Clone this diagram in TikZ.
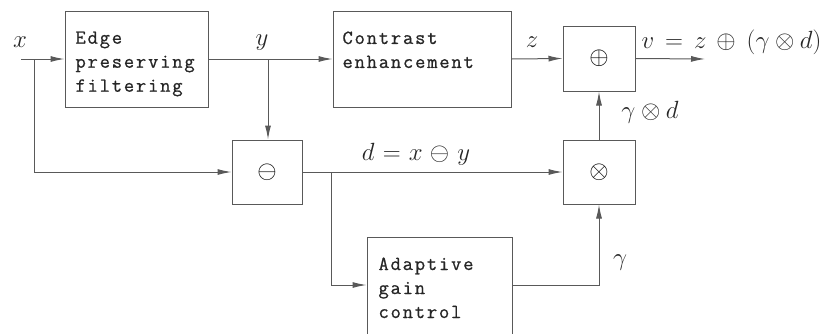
\documentclass[tikz,border=0pt]{standalone}
\usepackage{fontspec}
\newfontfamily\boxfont[LetterSpace=9,FakeBold=0.8]{Latin Modern Mono}
\usetikzlibrary{arrows.meta,calc}
\begin{document}
\begin{tikzpicture}[x=1pt,y=-1pt,
  line width=1pt,
  arr/.style={-{Latex[length=14pt,width=6pt]}, draw=black!65},
  blk/.style={draw=black!65, rectangle, inner sep=0pt, font=\fontsize{23}{27}\selectfont},
  btxt/.style={anchor=north west, inner sep=0pt, align=left, font=\fontsize{20}{24}\selectfont\boxfont, text=black!85},
  lbl/.style={inner sep=0pt, font=\fontsize{23}{27}\selectfont, text=black!85}]
\useasboundingbox (0,0) rectangle (829,333);
% boxes
\node[blk, minimum width=143pt, minimum height=96pt] (edge) at (136.5,59) {};
\node[blk, minimum width=178pt, minimum height=96pt] (contrast) at (422,59) {};
\node[blk, minimum width=70pt, minimum height=64pt] (minus) at (267,172) {$\ominus$};
\node[blk, minimum width=72pt, minimum height=65pt] (plus) at (599,58.5) {$\oplus$};
\node[blk, minimum width=72pt, minimum height=64pt] (times) at (599,172) {$\otimes$};
\node[blk, minimum width=145pt, minimum height=116pt] (adapt) at (439.5,295) {};
% box texts
\node[btxt] (t1) at (75,31) {Edge\\preserving\\filtering};
\node[btxt] (t2) at (342,31) {Contrast\\enhancement};
\node[btxt] (t3) at (378,257) {Adaptive\\gain\\control};
% coordinates
\coordinate (xin) at (21,59);
\coordinate (xb) at (34,59);
\coordinate (yb) at (268,59);
\coordinate (db) at (331,172);
\coordinate (ay) at (0,285);
\coordinate (out) at (705,59);
% connectors
\draw[arr] (xin) -- (edge.west);
\draw[arr] (xb) -- (xb |- minus.west) -- (minus.west);
\draw[arr] (edge.east) -- (contrast.west);
\draw[arr] (yb) -- (yb |- minus.north);
\draw[arr] (contrast.east) -- (plus.west);
\draw[arr] (plus.east) -- (out);
\draw[arr] (minus.east) -- (times.west);
\draw[arr] (db) -- (db |- ay) -- (adapt.west |- ay);
\draw[arr] (adapt.east |- ay) -- (times.south |- ay) -- (times.south);
\draw[arr] (times.north) -- (plus.south);
% labels
\node[lbl] (lx) at (20,42) {$x$};
\node[lbl] (ly) at (262,43) {$y$};
\node[lbl] (lz) at (532,42) {$z$};
\node[lbl, anchor=west] (lv) at (641,42) {$v\mkern8mu{=}\mkern8mu z\mkern7mu{\oplus}\mkern8mu(\gamma\mkern4mu{\otimes}\mkern4mu d)$};
\node[lbl] (ld) at (416,154) {$d\mkern6mu{=}\mkern6mu x\mkern5mu{\ominus}\mkern6mu y$};
\node[lbl] (lgd) at (650,112) {$\gamma\mkern4mu{\otimes}\mkern4mu d$};
\node[lbl] (lg) at (620,263) {$\gamma$};
\end{tikzpicture}
\end{document}
